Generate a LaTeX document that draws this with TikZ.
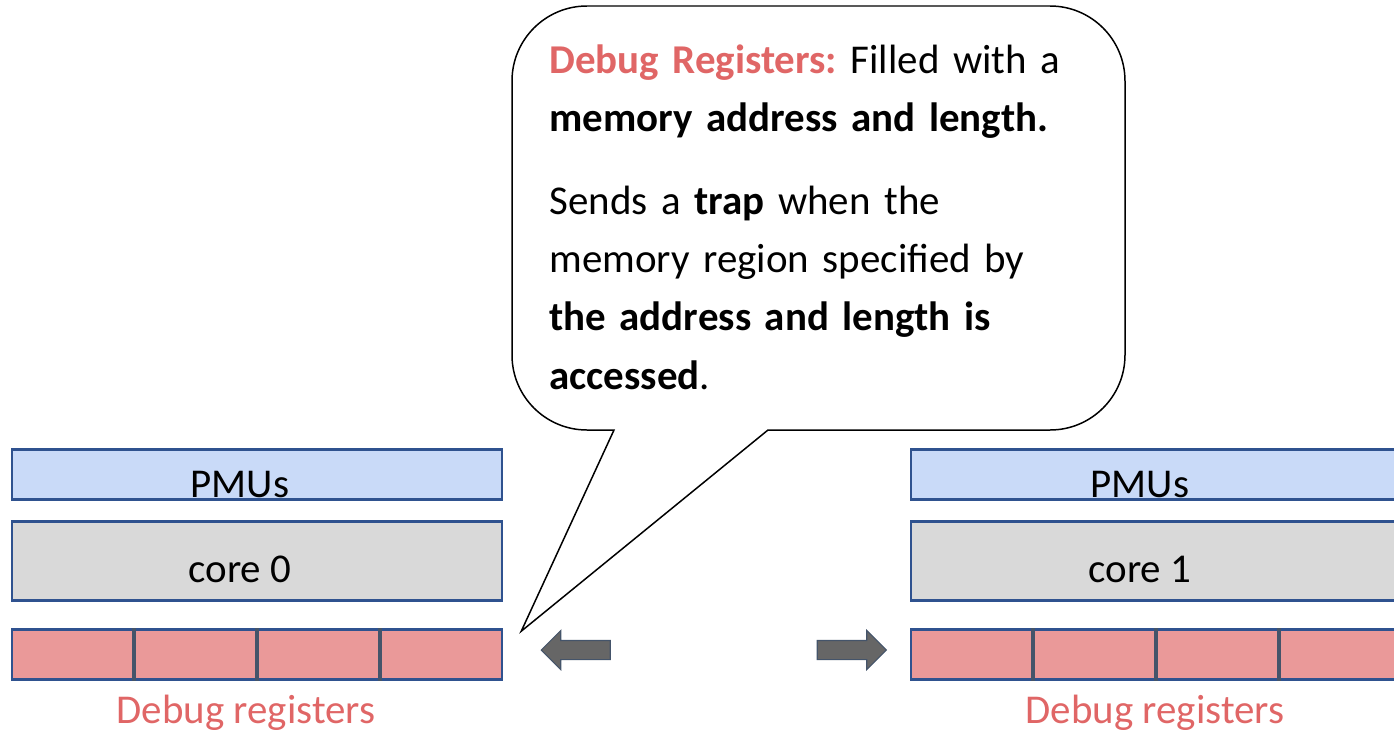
\documentclass[tikz,border=0pt]{standalone}
\usepackage{fontspec}
\setmainfont{Carlito}
\usetikzlibrary{positioning,calc,shapes.arrows}

\definecolor{pmublue}{RGB}{201,218,248}
\definecolor{coregray}{RGB}{217,217,217}
\definecolor{regpink}{RGB}{234,153,153}
\definecolor{regred}{RGB}{224,102,102}
\definecolor{boxline}{RGB}{47,82,143}
\definecolor{divline}{RGB}{68,84,106}
\definecolor{arrowgray}{RGB}{102,102,102}

\begin{document}
\frenchspacing
\begin{tikzpicture}[
    x=0.02cm, y=-0.02cm,
    every node/.style={font=\fontsize{23.3}{33.2}\selectfont},
    pmubox/.style={draw=boxline, line width=1.5pt, fill=pmublue, minimum width=9.8cm, minimum height=1.0cm, inner sep=0},
    corebox/.style={draw=boxline, line width=1.5pt, fill=coregray, minimum width=9.8cm, minimum height=1.58cm, inner sep=0},
    regbox/.style={draw=boxline, line width=1.5pt, fill=regpink, minimum width=9.8cm, minimum height=1.0cm, inner sep=0},
    divider/.style={draw=divline, line width=2.2pt},
    blockarrow/.style={single arrow, draw=divline, line width=0.6pt, fill=arrowgray, minimum height=1.38cm, inner xsep=0, inner ysep=0.18cm, single arrow head extend=0.2cm}
]
\useasboundingbox (0,0) rectangle (1394,730);
\clip (0,0) rectangle (1394,730);

% Core 0
\node[pmubox] (pmu0) at (257,474.5) {};
\node[corebox] (core0) at (257,561) {};
\node[regbox] (reg0) at (257,654.5) {};
\node[anchor=base] (pmu0txt) at (240,497) {PMUs};
\node[anchor=base] (core0txt) at (240,582) {core 0};
\node[anchor=base, text=regred] (reg0txt) at (246,723) {Debug registers};
\foreach \i in {1,2,3}
    \draw[divider] ($(reg0.north west)!\i/4!(reg0.north east)$) -- ($(reg0.south west)!\i/4!(reg0.south east)$);

% Core 1
\node[pmubox] (pmu1) at (1156,474.5) {};
\node[corebox] (core1) at (1156,561) {};
\node[regbox] (reg1) at (1156,654.5) {};
\node[anchor=base] (pmu1txt) at (1140,497) {PMUs};
\node[anchor=base] (core1txt) at (1140,582) {core 1};
\node[anchor=base, text=regred] (reg1txt) at (1155,723) {Debug registers};
\foreach \i in {1,2,3}
    \draw[divider] ($(reg1.north west)!\i/4!(reg1.north east)$) -- ($(reg1.south west)!\i/4!(reg1.south east)$);

% Arrows
\node[blockarrow, shape border rotate=180] (arrow0) at (580.5,650) {};
\node[blockarrow] (arrow1) at (847,650) {};

% Callout
\coordinate (tip) at ($(reg0.north east)+(18,3)$);
\draw[line width=0.85pt, fill=white] (614,430) [rounded corners=1.5cm] -- (512,430) -- (512,6) -- (1125,6) -- (1125,430) [sharp corners] -- (768,430) -- (tip) -- cycle;
\node[anchor=north west, align=left, text width=11cm, inner sep=0] (note) at (549,44)
    {\textcolor{regred}{\textbf{Debug Registers:}} Filled with a\\
     \textbf{memory address and length.}\\[14pt]
     Sends a \textbf{trap} when the\\
     memory region specified by\\
     \textbf{the address and length is}\\
     \textbf{accessed}.};

\end{tikzpicture}
\end{document}
